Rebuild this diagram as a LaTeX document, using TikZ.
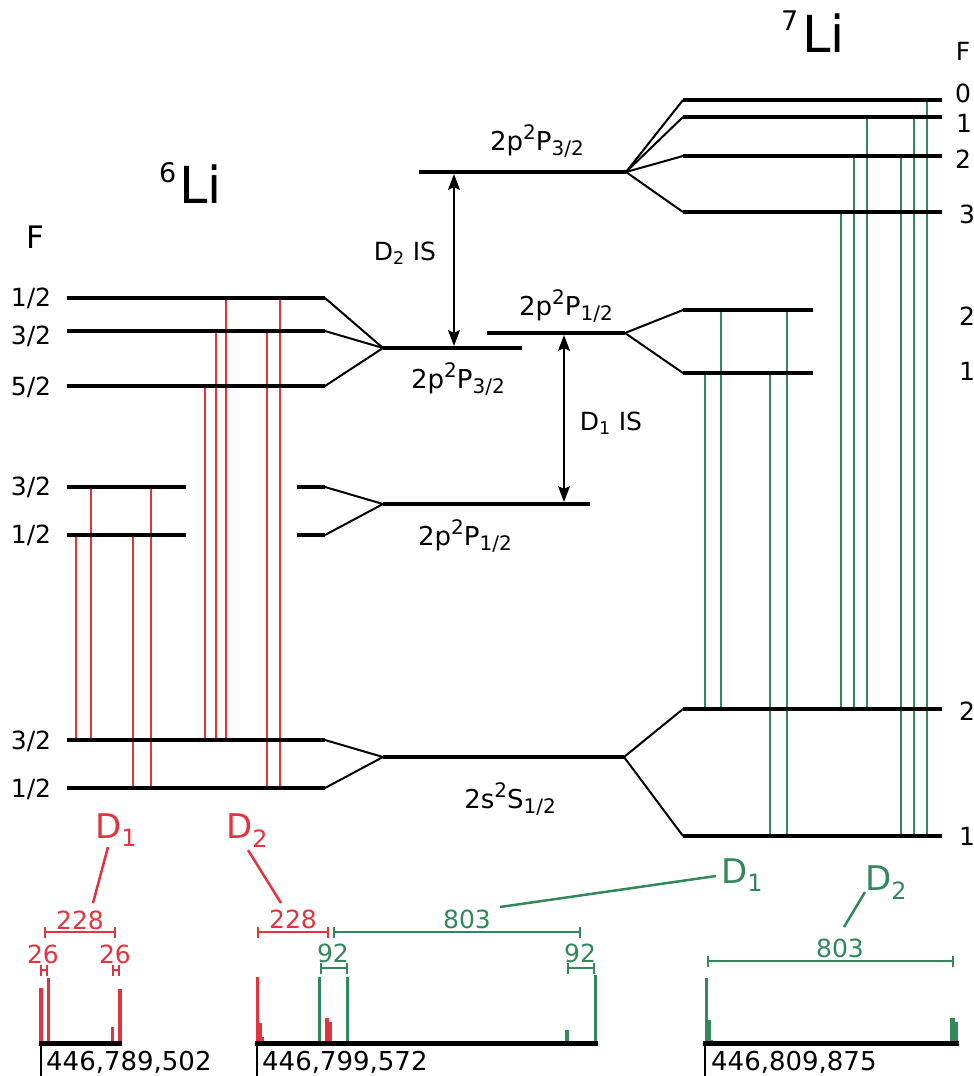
\documentclass[tikz,border=0pt]{standalone}
\usepackage{fontspec}
\setmainfont{DejaVu Sans}
\usetikzlibrary{arrows.meta}
\definecolor{lired}{RGB}{226,52,62}
\definecolor{ligreen}{RGB}{50,136,90}
\newcommand\fsz[1]{\fontsize{#1}{#1}\selectfont}
\newcommand\sups[1]{\raisebox{0.42em}{\fsz{20}#1}}
\newcommand\subs[1]{\raisebox{-0.22em}{\fsz{20}#1}}
\newcommand\term[3]{2#1\sups{2}#2\subs{#3}}
\begin{document}
\begin{tikzpicture}[x=1pt,y=-1pt,
  lvl/.style={line width=4.5pt},
  fan/.style={line width=2pt,line join=round},
  tr6/.style={draw=lired,line width=2.2pt},
  tr7/.style={draw=ligreen,line width=2.2pt},
  t25/.style={inner sep=0pt,font=\fsz{25}},
  tt/.style={inner sep=0pt,font=\fsz{26}},
  big/.style={inner sep=0pt,font=\fsz{51}},
  dlab/.style={inner sep=0pt,font=\fsz{34}},
  isarrow/.style={line width=2.2pt,{Stealth[length=16pt,width=12pt,inset=3pt]}-{Stealth[length=16pt,width=12pt,inset=3pt]}},
  brk/.style={line width=1.6pt,{Bar[width=11pt]}-{Bar[width=11pt]}},
  axisline/.style={line width=5pt},
  tickline/.style={line width=2pt},
  leader/.style={line width=2.5pt}
]
\useasboundingbox (0,0) rectangle (974,1076);

% ---------- level coordinates ----------
% 6Li 2p P3/2 hyperfine
\coordinate (L6a-l) at (67,298);  \coordinate (L6a-r) at (325,298);
\coordinate (L6b-l) at (67,331);  \coordinate (L6b-r) at (325,331);
\coordinate (L6c-l) at (67,386);  \coordinate (L6c-r) at (325,386);
\coordinate (P36-l) at (383,348); \coordinate (P36-r) at (522,348);
% 6Li 2p P1/2 hyperfine
\coordinate (L6d-l) at (67,487);  \coordinate (L6d-m) at (186,487);
\coordinate (L6d-n) at (297,487); \coordinate (L6d-r) at (325,487);
\coordinate (L6e-l) at (67,535);  \coordinate (L6e-m) at (186,535);
\coordinate (L6e-n) at (297,535); \coordinate (L6e-r) at (325,535);
\coordinate (P16-l) at (383,504); \coordinate (P16-r) at (590,504);
% 6Li ground
\coordinate (G6a-l) at (67,740);  \coordinate (G6a-r) at (325,740);
\coordinate (G6b-l) at (67,788);  \coordinate (G6b-r) at (325,788);
\coordinate (S-l) at (383,757);   \coordinate (S-r) at (624,757);
% 7Li ground
\coordinate (G7a-l) at (683,709); \coordinate (G7a-r) at (942,709);
\coordinate (G7b-l) at (683,836); \coordinate (G7b-r) at (942,836);
% 7Li 2p P3/2
\coordinate (P37-l) at (419,172); \coordinate (P37-r) at (626,172);
\coordinate (L7a-l) at (683,100); \coordinate (L7a-r) at (942,100);
\coordinate (L7b-l) at (683,117); \coordinate (L7b-r) at (942,117);
\coordinate (L7c-l) at (683,156); \coordinate (L7c-r) at (942,156);
\coordinate (L7d-l) at (683,212); \coordinate (L7d-r) at (942,212);
% 7Li 2p P1/2
\coordinate (P17-l) at (487,333); \coordinate (P17-r) at (625,333);
\coordinate (L7e-l) at (683,310); \coordinate (L7e-r) at (813,310);
\coordinate (L7f-l) at (683,373); \coordinate (L7f-r) at (813,373);

% ---------- transitions ----------
\foreach \xx/\a/\b in {76/L6e/G6a,91/L6d/G6a,133/L6e/G6b,151/L6d/G6b,
  205/L6c/G6a,216/L6b/G6a,226/L6a/G6a,267/L6b/G6b,280/L6a/G6b}
  \draw[tr6] (\xx,0 |- \a-l) -- (\xx,0 |- \b-l);
\foreach \xx/\a/\b in {705/L7f/G7a,721/L7e/G7a,770/L7f/G7b,787/L7e/G7b,
  841/L7d/G7a,854/L7c/G7a,867/L7b/G7a,901/L7c/G7b,914/L7b/G7b,927/L7a/G7b}
  \draw[tr7] (\xx,0 |- \a-l) -- (\xx,0 |- \b-l);

% ---------- levels ----------
\foreach \n in {L6a,L6b,L6c,P36,P16,G6a,G6b,S,G7a,G7b,P37,L7a,L7b,L7c,L7d,P17,L7e,L7f}
  \draw[lvl] (\n-l) -- (\n-r);
\draw[lvl] (L6d-l) -- (L6d-m);
\draw[lvl] (L6d-n) -- (L6d-r);
\draw[lvl] (L6e-l) -- (L6e-m);
\draw[lvl] (L6e-n) -- (L6e-r);

% ---------- fans ----------
\foreach \n in {L6a,L6b,L6c} \draw[fan] (\n-r) -- (P36-l);
\foreach \n in {L6d,L6e} \draw[fan] (\n-r) -- (P16-l);
\foreach \n in {G6a,G6b} \draw[fan] (\n-r) -- (S-l);
\foreach \n in {G7a,G7b} \draw[fan] (S-r) -- (\n-l);
\foreach \n in {L7a,L7b,L7c,L7d} \draw[fan] (P37-r) -- (\n-l);
\foreach \n in {L7e,L7f} \draw[fan] (P17-r) -- (\n-l);

% ---------- isotope shift arrows ----------
\coordinate (d2top) at (454,0 |- P37-l);
\coordinate (d2bot) at (454,0 |- P36-l);
\coordinate (d1top) at (564,0 |- P17-l);
\coordinate (d1bot) at (564,0 |- P16-l);
\draw[isarrow] ([yshift=-2pt]d2top) -- ([yshift=2pt]d2bot);
\draw[isarrow] ([yshift=-2pt]d1top) -- ([yshift=2pt]d1bot);
\node[t25,anchor=base] (d2is) at (405,260) {D\textsubscript{2} IS};
\node[t25,anchor=base] (d1is) at (611,430) {D\textsubscript{1} IS};

% ---------- term labels ----------
\node[tt,anchor=base] (tP37) at (537,150) {\term{p}{P}{3/2}};
\node[tt,anchor=base] (tP17) at (566,315) {\term{p}{P}{1/2}};
\node[tt,anchor=base] (tP36) at (458,388) {\term{p}{P}{3/2}};
\node[tt,anchor=base] (tP16) at (465,545) {\term{p}{P}{1/2}};
\node[tt,anchor=base] (tS)   at (510,808) {\term{s}{S}{1/2}};

% ---------- isotope titles ----------
\node[big,anchor=base west] (li6) at (159,203) {\raisebox{21pt}{\fsz{27}6}\kern3pt Li};
\node[big,anchor=base west] (li7) at (781,52) {\raisebox{21pt}{\fsz{27}7}\kern4pt Li};
\node[inner sep=0pt,font=\fsz{31},anchor=base] (F6) at (35,248) {F};
\node[t25,anchor=base] (F7) at (963,60) {F};

% ---------- F values ----------
\node[t25,anchor=base] at (31,306) {1/2};
\node[t25,anchor=base] at (31,344) {3/2};
\node[t25,anchor=base] at (31,395) {5/2};
\node[t25,anchor=base] at (31,495) {3/2};
\node[t25,anchor=base] at (31,543) {1/2};
\node[t25,anchor=base] at (31,749) {3/2};
\node[t25,anchor=base] at (31,797) {1/2};
\node[t25,anchor=base] at (963,102) {0};
\node[t25,anchor=base] at (964,132) {1};
\node[t25,anchor=base] at (963,168) {2};
\node[t25,anchor=base] at (967,223) {3};
\node[t25,anchor=base] at (967,325) {2};
\node[t25,anchor=base] at (967,380) {1};
\node[t25,anchor=base] at (967,720) {2};
\node[t25,anchor=base] at (967,845) {1};

% ---------- spectra ----------
% spectrum 1 (6Li D1)
\fill[lired] (39.3,988) rectangle (42.7,1043);
\fill[lired] (46.7,978) rectangle (50.3,1043);
\fill[lired] (110.7,1027) rectangle (114,1043);
\fill[lired] (118.3,989) rectangle (121.7,1043);
% spectrum 2 (6Li D2 + 7Li D1)
\fill[lired] (256,977) rectangle (259.3,1043);
\fill[lired] (259.3,1023) rectangle (262,1043);
\fill[lired] (262,1037) rectangle (264,1043);
\fill[lired] (325.3,1018) rectangle (328.7,1043);
\fill[lired] (328.7,1022) rectangle (331.7,1043);
\fill[ligreen] (317.7,977) rectangle (321,1043);
\fill[ligreen] (346,977) rectangle (349.3,1043);
\fill[ligreen] (565.3,1030) rectangle (568.7,1043);
\fill[ligreen] (594,975) rectangle (597.3,1043);
% spectrum 3 (7Li D2)
\fill[ligreen] (705,978) rectangle (708.3,1043);
\fill[ligreen] (708.3,1020) rectangle (711,1043);
\fill[ligreen] (711,1040) rectangle (713.3,1043);
\fill[ligreen] (950,1018) rectangle (955.3,1043);
\fill[ligreen] (955.3,1022) rectangle (958.3,1043);

% axes
\coordinate (ax1-l) at (39,1043);  \coordinate (ax1-r) at (122,1043);
\coordinate (ax2-l) at (255,1043); \coordinate (ax2-r) at (598,1043);
\coordinate (ax3-l) at (703,1043); \coordinate (ax3-r) at (959,1043);
\draw[axisline] (ax1-l) -- (ax1-r);
\draw[axisline] (ax2-l) -- (ax2-r);
\draw[axisline] (ax3-l) -- (ax3-r);
\draw[tickline] (40.5,1043) -- (40.5,1076);
\draw[tickline] (256.7,1043) -- (256.7,1076);
\draw[tickline] (705,1043) -- (705,1076);
\node[t25,anchor=base west,font=\fsz{26}] (f1) at (46,1070) {446,789,502};
\node[t25,anchor=base west,font=\fsz{26}] (f2) at (262,1070) {446,799,572};
\node[t25,anchor=base west,font=\fsz{26}] (f3) at (711,1070) {446,809,875};

% brackets
\draw[brk,lired] (40,970) -- (48,970);
\draw[brk,lired] (112,970) -- (120,970);
\draw[brk,lired] (44,932) -- (116,932);
\draw[brk,lired] (257,932) -- (329,932);
\draw[brk,ligreen] (333,932) -- (581,932);
\draw[brk,ligreen] (320,968) -- (348,968);
\draw[brk,ligreen] (567,968) -- (595,968);
\draw[brk,ligreen] (707,961) -- (954,961);
\node[t25,anchor=base,text=lired] (n26a) at (43,963) {26};
\node[t25,anchor=base,text=lired] (n26b) at (115,963) {26};
\node[t25,anchor=base,text=lired] (n228a) at (80,929) {228};
\node[t25,anchor=base,text=lired] (n228b) at (293,928) {228};
\node[t25,anchor=base,text=ligreen] (n803a) at (467,928) {803};
\node[t25,anchor=base,text=ligreen] (n92a) at (333,962) {92};
\node[t25,anchor=base,text=ligreen] (n92b) at (580,962) {92};
\node[t25,anchor=base,text=ligreen] (n803b) at (840,957) {803};

% D labels and leaders
\node[dlab,anchor=base,text=lired] (D1r) at (116,838) {D\textsubscript{1}};
\node[dlab,anchor=base,text=lired] (D2r) at (247,838) {D\textsubscript{2}};
\node[dlab,anchor=base,text=ligreen] (D1g) at (742,883) {D\textsubscript{1}};
\node[dlab,anchor=base,text=ligreen] (D2g) at (886,890) {D\textsubscript{2}};
\coordinate (k1a) at (108,847); \coordinate (k1b) at (93,903);
\coordinate (k2a) at (248,850); \coordinate (k2b) at (281,903);
\coordinate (k3a) at (716,876); \coordinate (k3b) at (500,907);
\coordinate (k4a) at (865,892); \coordinate (k4b) at (844,927);
\draw[leader,lired] (k1a) -- (k1b);
\draw[leader,lired] (k2a) -- (k2b);
\draw[leader,ligreen] (k3a) -- (k3b);
\draw[leader,ligreen] (k4a) -- (k4b);
\end{tikzpicture}
\end{document}
